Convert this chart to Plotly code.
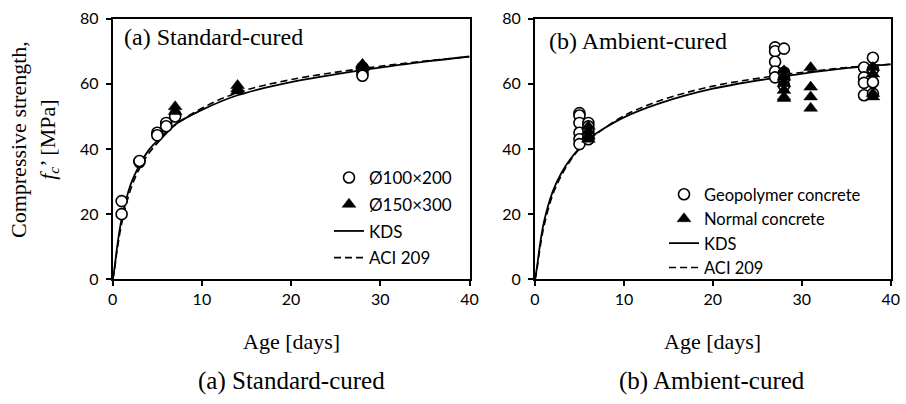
import plotly.graph_objects as go

# ---------------- data ----------------
# (a) Standard-cured
a_d100_age = [1, 1, 3, 3, 5, 5, 6, 6, 7, 7, 28, 28, 28, 28]
a_d100_fc = [24, 20, 36, 36.3, 45, 44.2, 48, 47, 50.5, 50, 65, 64, 63, 62.5]
a_d150_age = [7, 7, 14, 14, 14, 28, 28, 28]
a_d150_fc = [53, 51.5, 59.5, 58.5, 57.8, 66, 65.5, 65]
a_curve_age = [0, 0.1, 0.25, 0.5, 1, 2, 3, 4, 5, 7, 10, 14, 20, 28, 35, 40]
a_kds = [0, 1.5, 4.5, 10, 18.5, 29, 35, 39.5, 42.5, 47.5, 52, 56.5, 60.5, 64.2, 66.8, 68.4]
a_aci = [0, 1.2, 3.8, 9, 17, 27.5, 34, 38.5, 41.8, 47.3, 52.5, 57.3, 61.3, 64.7, 67, 68.3]

# (b) Ambient-cured
b_gp_age = [5, 5, 5, 5, 5, 5, 6, 6, 6, 6, 6,
            27, 27, 27, 27, 27, 28, 28, 28, 28,
            37, 37, 37, 37, 38, 38, 38, 38]
b_gp_fc = [51, 50.3, 48, 45, 43, 41.5, 48, 47, 45.5, 44, 43,
           71.2, 70, 66.8, 63.8, 62, 70.8, 63.5, 61.5, 59.5,
           65, 62, 60.3, 56.5, 68, 64.5, 60.5, 57]
b_nc_age = [6, 6, 6, 6, 28, 28, 28, 28, 28, 28, 31, 31, 31, 31, 38, 38, 38, 38]
b_nc_fc = [47, 45.5, 44, 43, 64, 62, 60, 58, 56, 55.5, 65, 59, 56, 52.5, 65, 63, 57, 56]
b_curve_age = [0, 0.1, 0.25, 0.5, 1, 2, 3, 4, 5, 6, 7, 10, 14, 20, 28, 35, 40]
b_kds = [0, 1.5, 4.3, 9.5, 17.5, 27, 32.8, 37, 40.3, 43, 45, 49.7, 54, 58.5, 62.3, 64.8, 66]
b_aci = [0, 1.1, 3.6, 8.4, 16.2, 26, 32, 36.5, 40, 42.6, 44.8, 50.2, 54.8, 59.3, 62.8, 65, 66]

x_ticks = [0, 10, 20, 30, 40]
y_ticks = [0, 20, 40, 60, 80]

SERIF = "Liberation Serif, Times New Roman, serif"
SANS = "Lato, Open Sans, sans-serif"

fig = go.Figure()

def curves(xa, ya, ages, kds, aci, legend):
    fig.add_trace(go.Scatter(x=ages, y=kds, mode="lines", name="KDS",
                             line=dict(color="black", width=1.8, shape="spline"),
                             xaxis=xa, yaxis=ya, legend=legend, legendrank=3,
                             legendgroup=legend + "k"))
    fig.add_trace(go.Scatter(x=ages, y=aci, mode="lines", name="ACI 209",
                             line=dict(color="black", width=1.6, dash="7px,4px", shape="spline"),
                             xaxis=xa, yaxis=ya, legend=legend, legendrank=4,
                             legendgroup=legend + "a"))

def circles(xa, ya, x, y, name, legend):
    fig.add_trace(go.Scatter(x=x, y=y, mode="markers", name=name,
                             marker=dict(symbol="circle", size=11, color="white",
                                         line=dict(color="black", width=1.6)),
                             xaxis=xa, yaxis=ya, legend=legend, legendrank=1,
                             legendgroup=legend + "c"))

def triangles(xa, ya, x, y, name, legend):
    fig.add_trace(go.Scatter(x=x, y=y, mode="markers", name=name,
                             marker=dict(symbol="triangle-up", size=12, color="black",
                                         line=dict(color="black", width=0.5)),
                             xaxis=xa, yaxis=ya, legend=legend, legendrank=2,
                             legendgroup=legend + "t"))

curves("x", "y", a_curve_age, a_kds, a_aci, "legend")
circles("x", "y", a_d100_age, a_d100_fc, "Ø100×200", "legend")
triangles("x", "y", a_d150_age, a_d150_fc, "Ø150×300", "legend")

curves("x2", "y2", b_curve_age, b_kds, b_aci, "legend2")
circles("x2", "y2", b_gp_age, b_gp_fc, "Geopolymer concrete", "legend2")
triangles("x2", "y2", b_nc_age, b_nc_fc, "Normal concrete", "legend2")

W, H = 906, 404
ytop, ybot = 18.7, 279.3
ydom = [1 - ybot / H, 1 - ytop / H]

axis_common = dict(showline=True, linecolor="black", linewidth=1.8, mirror=True,
                   ticks="outside", ticklen=5, tickwidth=1.5, tickcolor="black",
                   showgrid=False, zeroline=False,
                   tickfont=dict(family=SANS, size=16, color="black"))

fig.update_layout(
    width=W, height=H, margin=dict(l=0, r=0, t=0, b=0, autoexpand=False),
    paper_bgcolor="white", plot_bgcolor="white",
    xaxis=dict(domain=[112.7 / W, 469.5 / W], range=[0, 40], tickvals=x_ticks, anchor="y", **axis_common),
    yaxis=dict(domain=ydom, range=[0, 80], tickvals=y_ticks, anchor="x", ticklabelstandoff=4, **axis_common),
    xaxis2=dict(domain=[535 / W, 890.7 / W], range=[0, 40], tickvals=x_ticks, anchor="y2", **axis_common),
    yaxis2=dict(domain=ydom, range=[0, 80], tickvals=y_ticks, anchor="x2", ticklabelstandoff=4, **axis_common),
    legend=dict(x=329 / W, y=1 - 160 / H, xanchor="left", yanchor="top",
                bgcolor="rgba(0,0,0,0)", font=dict(family=SANS, size=17, color="black"),
                traceorder="grouped", tracegroupgap=1.6, itemwidth=30),
    legend2=dict(x=664 / W, y=1 - 177 / H, xanchor="left", yanchor="top",
                 bgcolor="rgba(0,0,0,0)", font=dict(family=SANS, size=16.5, color="black"),
                 traceorder="grouped", tracegroupgap=0, itemwidth=30),
    showlegend=True,
)

ann = []
ann.append(dict(text="(a) Standard-cured", x=122 / W, y=1 - 37 / H, xref="paper", yref="paper",
                xanchor="left", yanchor="middle", showarrow=False,
                font=dict(family=SERIF, size=24, color="black")))
ann.append(dict(text="(b) Ambient-cured", x=547 / W, y=1 - 41 / H, xref="paper", yref="paper",
                xanchor="left", yanchor="middle", showarrow=False,
                font=dict(family=SERIF, size=24, color="black")))
ann.append(dict(text="Compressive strength,<br><i>f<sub>c</sub></i>’ [MPa]", x=34 / W, y=1 - 140 / H,
                xref="paper", yref="paper", xanchor="center", yanchor="middle", showarrow=False,
                textangle=-90, font=dict(family=SERIF, size=22, color="black")))
for cx, lab in [(291, "(a) Standard-cured"), (712, "(b) Ambient-cured")]:
    ann.append(dict(text="Age [days]", x=cx / W, y=1 - 341 / H, xref="paper", yref="paper",
                    xanchor="center", yanchor="middle", showarrow=False,
                    font=dict(family=SERIF, size=22, color="black")))
    ann.append(dict(text=lab, x=cx / W, y=1 - 381 / H, xref="paper", yref="paper",
                    xanchor="center", yanchor="middle", showarrow=False,
                    font=dict(family=SERIF, size=25, color="black")))
fig.update_layout(annotations=ann)

fig.write_html("out.html")
